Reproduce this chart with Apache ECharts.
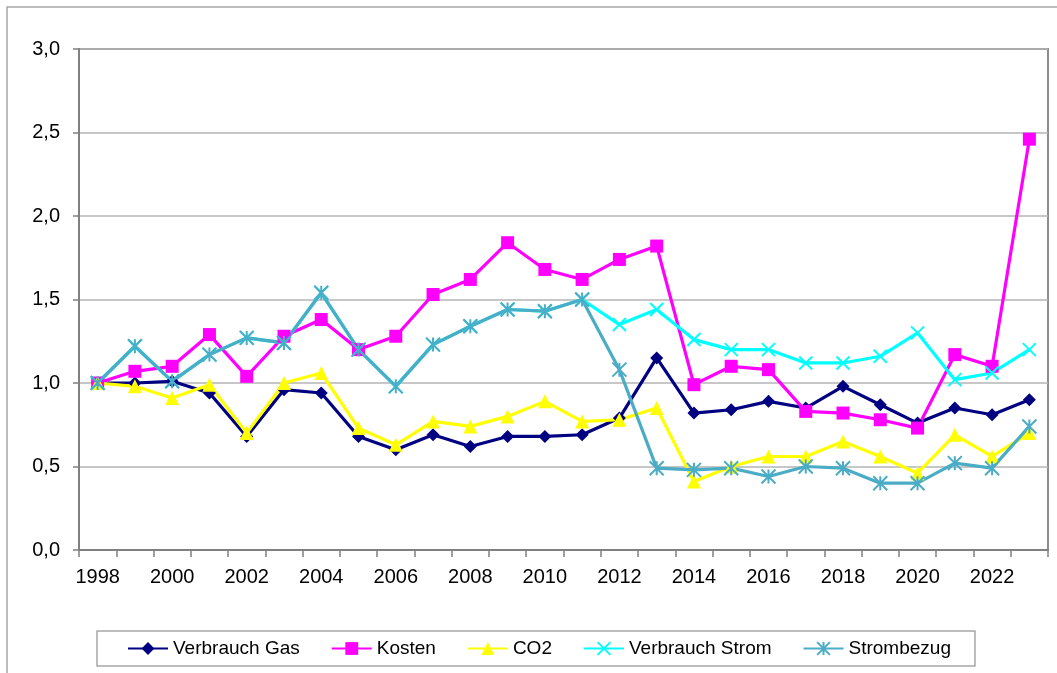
<!DOCTYPE html>
<html>
<head>
<meta charset="utf-8">
<script src="https://cdn.jsdelivr.net/npm/echarts@6/dist/echarts.min.js"></script>
<style>
  html, body { margin: 0; padding: 0; background: #fff; }
  #chart { width: 1057px; height: 673px; }
</style>
</head>
<body>
<div id="chart"></div>
<script>
// Years on the category axis
const years = ['1998','1999','2000','2001','2002','2003','2004','2005','2006','2007','2008','2009','2010',
               '2011','2012','2013','2014','2015','2016','2017','2018','2019','2020','2021','2022','2023'];

// Index values (1998 = 1,0)
const verbrauchGas = [1.00,1.00,1.01,0.94,0.68,0.96,0.94,0.68,0.60,0.69,0.62,0.68,0.68,
                      0.69,0.79,1.15,0.82,0.84,0.89,0.85,0.98,0.87,0.76,0.85,0.81,0.90];
const kosten       = [1.00,1.07,1.10,1.29,1.04,1.28,1.38,1.20,1.28,1.53,1.62,1.84,1.68,
                      1.62,1.74,1.82,0.99,1.10,1.08,0.83,0.82,0.78,0.73,1.17,1.10,2.46];
const co2          = [1.00,0.98,0.91,0.99,0.70,1.00,1.06,0.73,0.63,0.77,0.74,0.80,0.89,
                      0.77,0.78,0.85,0.41,0.50,0.56,0.56,0.65,0.56,0.46,0.69,0.56,0.70];
const verbrauchStrom = [1.00,1.22,1.01,1.17,1.27,1.24,1.54,1.20,0.98,1.23,1.34,1.44,1.43,
                        1.50,1.35,1.44,1.26,1.20,1.20,1.12,1.12,1.16,1.30,1.02,1.06,1.20];
const strombezug   = [1.00,1.22,1.01,1.17,1.27,1.24,1.54,1.20,0.98,1.23,1.34,1.44,1.43,
                      1.50,1.08,0.49,0.48,0.49,0.44,0.50,0.49,0.40,0.40,0.52,0.49,0.74];

const yTicks = { min: 0, max: 3, step: 0.5 };

const FONT = '"Liberation Sans", Arial, sans-serif';
const X_SYMBOL = 'path://M0,0L10,10M10,0L0,10';
const STAR_SYMBOL = 'path://M0,0L10,10M10,0L0,10M5,0L5,10';

function lineSeries(name, data, color, symbol, size, strokeSymbol) {
  return {
    name: name,
    type: 'line',
    data: data,
    symbol: symbol,
    symbolSize: size,
    showAllSymbol: true,
    lineStyle: { color: color, width: 3.2 },
    itemStyle: strokeSymbol
      ? { color: color, borderColor: color, borderWidth: 2 }
      : { color: color },
    emphasis: { disabled: true }
  };
}

const chart = echarts.init(document.getElementById('chart'), null, { renderer: 'canvas' });
chart.setOption({
  animation: false,
  backgroundColor: '#fff',
  textStyle: { fontFamily: FONT },
  graphic: [{
    type: 'rect',
    shape: { x: 7, y: 7, width: 1060, height: 680 },
    style: { fill: 'none', stroke: '#a6a6a6', lineWidth: 1.5 },
    silent: true,
    z: -10
  }],
  grid: {
    left: 79, right: 9, top: 49, bottom: 123,
    show: true, borderColor: '#8c8c8c', borderWidth: 2, backgroundColor: 'transparent'
  },
  legend: {
    left: 97, top: 631,
    padding: [8, 24, 8, 30],
    itemWidth: 40, itemHeight: 16, itemGap: 31,
    borderColor: '#a6a6a6', borderWidth: 1.5,
    textStyle: { fontFamily: FONT, fontSize: 19, color: '#000' },
    data: ['Verbrauch Gas', 'Kosten', 'CO2', 'Verbrauch Strom', 'Strombezug']
  },
  xAxis: {
    type: 'category',
    data: years,
    boundaryGap: true,
    axisLine: { lineStyle: { color: '#808080', width: 2 } },
    axisTick: { show: true, interval: 0, length: 7, lineStyle: { color: '#808080', width: 1.5 } },
    axisLabel: { interval: 1, margin: 17, fontFamily: FONT, fontSize: 20, color: '#000' },
    splitLine: { show: false }
  },
  yAxis: {
    type: 'value',
    min: yTicks.min, max: yTicks.max, interval: yTicks.step,
    axisLine: { show: true, lineStyle: { color: '#808080', width: 2 } },
    axisTick: { show: true, length: 6, lineStyle: { color: '#808080', width: 1.5 } },
    axisLabel: {
      margin: 19, fontFamily: FONT, fontSize: 20, color: '#000',
      formatter: v => v.toFixed(1).replace('.', ',')
    },
    splitLine: { show: true, lineStyle: { color: '#b4b4b4', width: 1.5 } }
  },
  series: [
    lineSeries('Verbrauch Gas', verbrauchGas, '#000080', 'diamond', 13, false),
    lineSeries('Kosten', kosten, '#ff00ff', 'rect', 13, false),
    lineSeries('CO2', co2, '#ffff00', 'triangle', 14, false),
    lineSeries('Verbrauch Strom', verbrauchStrom, '#00ffff', X_SYMBOL, 13, true),
    lineSeries('Strombezug', strombezug, '#4bacc6', STAR_SYMBOL, 14, true)
  ]
});
</script>
</body>
</html>
